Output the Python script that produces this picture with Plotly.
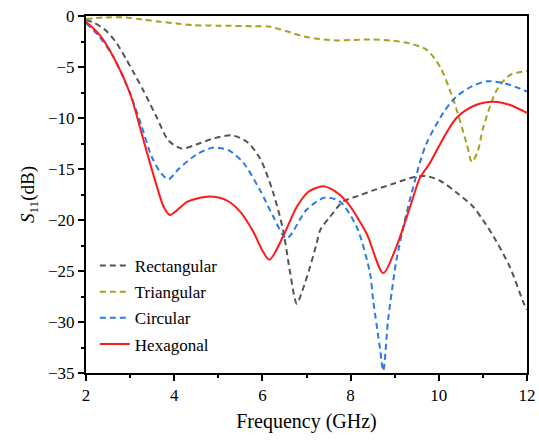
import plotly.graph_objects as go

# Frequency (GHz) and S11 (dB)
rect_f = [2.0, 2.2, 2.47, 2.7, 2.92, 3.1, 3.3, 3.6, 3.87, 4.17, 4.5, 4.9, 5.3, 5.64, 5.95, 6.25, 6.47, 6.63, 6.78, 6.9, 7.08, 7.23, 7.31, 7.53, 7.83, 8.2, 8.51, 9.0, 9.42, 9.72, 10.05, 10.4, 10.78, 11.0, 11.24, 11.61, 11.93, 12.0]
rect_s = [-0.4, -0.7, -1.5, -2.7, -4.3, -5.7, -7.3, -9.9, -12.2, -13.0, -12.6, -12.0, -11.7, -12.3, -14.0, -17.4, -21.0, -25.2, -28.2, -27.0, -24.6, -22.3, -21.0, -19.7, -18.2, -17.6, -17.1, -16.4, -15.8, -15.7, -16.2, -17.3, -18.7, -20.0, -21.6, -24.6, -28.2, -28.8]

tri_f = [2.0, 2.4, 2.85, 3.3, 3.68, 4.1, 4.43, 5.0, 5.8, 6.17, 6.55, 6.93, 7.3, 7.68, 8.05, 8.44, 8.9, 9.35, 9.72, 10.03, 10.33, 10.63, 10.75, 10.88, 11.01, 11.31, 11.61, 12.0]
tri_s = [-0.3, -0.15, -0.13, -0.35, -0.56, -0.75, -0.9, -0.95, -1.0, -1.05, -1.5, -2.0, -2.25, -2.4, -2.35, -2.3, -2.4, -2.7, -3.3, -5.0, -8.2, -12.5, -14.3, -13.3, -10.9, -7.3, -5.8, -5.4]

circ_f = [2.0, 2.3, 2.62, 3.0, 3.26, 3.49, 3.7, 3.87, 4.1, 4.5, 4.89, 5.25, 5.57, 5.95, 6.25, 6.55, 7.0, 7.42, 7.76, 8.14, 8.44, 8.51, 8.67, 8.74, 8.85, 8.97, 9.04, 9.27, 9.57, 9.72, 10.1, 10.4, 10.75, 11.09, 11.5, 12.0]
circ_s = [-0.7, -2.0, -4.0, -7.6, -10.8, -13.8, -15.4, -16.0, -15.0, -13.6, -12.9, -13.2, -14.4, -17.1, -19.7, -21.8, -19.0, -17.8, -18.2, -20.7, -25.2, -27.8, -32.7, -34.8, -29.8, -25.9, -23.9, -19.3, -14.4, -12.5, -9.5, -7.9, -6.9, -6.4, -6.6, -7.4]

hex_f = [2.0, 2.3, 2.62, 3.0, 3.26, 3.45, 3.62, 3.76, 3.9, 4.05, 4.3, 4.8, 5.2, 5.5, 5.8, 6.0, 6.16, 6.47, 6.78, 7.05, 7.38, 7.65, 7.91, 8.36, 8.74, 9.04, 9.35, 9.57, 9.8, 10.1, 10.4, 10.8, 11.24, 11.6, 12.0]
hex_s = [-0.56, -1.8, -4.0, -7.6, -11.5, -14.4, -16.9, -18.7, -19.5, -19.1, -18.2, -17.7, -18.1, -19.2, -21.2, -23.0, -23.9, -21.6, -18.7, -17.2, -16.7, -17.2, -18.2, -21.3, -25.2, -22.6, -18.7, -15.9, -14.4, -12.0, -10.0, -8.8, -8.4, -8.7, -9.5]

names = ["Rectangular", "Triangular", "Circular", "Hexagonal"]
colors = ["#555555", "#A9A020", "#2A7BE4", "#FF1A1A"]
dashes = ["6px,4px", "6px,4px", "6px,4px", "solid"]
series = [(rect_f, rect_s), (tri_f, tri_s), (circ_f, circ_s), (hex_f, hex_s)]

FONT = "Times New Roman, Liberation Serif, DejaVu Serif, Noto Serif, serif"

fig = go.Figure()
for (f, s), n, c, d in zip(series, names, colors, dashes):
    fig.add_trace(go.Scatter(
        x=f, y=s, name=n, mode="lines", legendgroup=n,
        line=dict(color=c, width=2, dash=d, shape="spline", smoothing=0.8),
    ))

axis_common = dict(
    showline=True, linecolor="black", linewidth=2, mirror=True,
    ticks="outside", ticklen=6, tickwidth=2, tickcolor="black",
    showgrid=False, zeroline=False, automargin=False,
    tickfont=dict(family=FONT, size=17, color="black"),
)

fig.update_xaxes(
    range=[2, 12], tickvals=[2, 4, 6, 8, 10, 12],
    minor=dict(ticks="outside", ticklen=3, tickwidth=2, tickcolor="black", dtick=1, tick0=2),
    title=dict(text="Frequency (GHz)", font=dict(family=FONT, size=20, color="black"), standoff=10),
    **axis_common,
)
fig.update_yaxes(
    range=[-35, 0], tickvals=[0, -5, -10, -15, -20, -25, -30, -35],
    minor=dict(ticks="outside", ticklen=3, tickwidth=2, tickcolor="black", dtick=2.5, tick0=0),
    title=dict(text="<i>S</i><sub>11</sub>(dB)", font=dict(family=FONT, size=19, color="black"), standoff=8),
    **axis_common,
)

fig.update_layout(
    width=539, height=440,
    margin=dict(l=86, r=12, t=16, b=67),
    paper_bgcolor="white", plot_bgcolor="white",
    font=dict(family=FONT),
    showlegend=True,
    legend=dict(
        x=0.02, y=0.35, xanchor="left", yanchor="top",
        bgcolor="rgba(0,0,0,0)", borderwidth=0,
        font=dict(family=FONT, size=17, color="black"),
        tracegroupgap=1, itemwidth=30,
    ),
)

fig.write_html("out.html")
